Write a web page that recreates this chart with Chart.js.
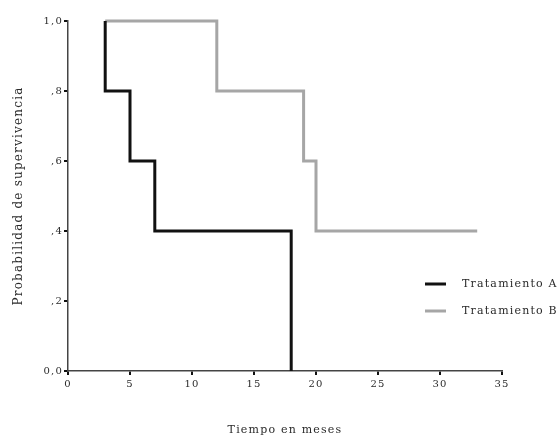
<!DOCTYPE html>
<html>
<head>
<meta charset="utf-8">
<script src="https://cdn.jsdelivr.net/npm/chart.js@4"></script>
<style>
  html, body { margin: 0; padding: 0; background: #ffffff; }
  #wrap { width: 559px; height: 437px; }
</style>
</head>
<body>
<div id="wrap"><canvas id="survival-chart"></canvas></div>
<script>
// ===== DATA =====
const timesA = [3, 3, 5, 7, 18];
const survA = [1.0, 0.8, 0.6, 0.4, 0.0];
const timesB = [3, 12, 19, 20, 33];
const survB = [1.0, 0.8, 0.6, 0.4, 0.4];
const seriesLabels = ['Tratamiento A', 'Tratamiento B'];
const xTicks = [0, 5, 10, 15, 20, 25, 30, 35];
const yTicks = [0, 0.2, 0.4, 0.6, 0.8, 1.0];
const yTickLabels = ['0,0', ',2', ',4', ',6', ',8', '1,0'];

const FONT = 'DejaVu Serif';
const TEXT_COLOR = '#2a2a2a';

// build {x, y} points from the arrays
function to_points(xs, ys) {
    return xs.map((x, i) => ({ x: x, y: ys[i] }));
}

// the scanned original has widely spaced letters
const spacing = {
    id: 'spacing',
    beforeDraw(chart) {
        chart.ctx.letterSpacing = '1.2px';
    }
};

// legend drawn by hand at the right side of the plot
const sideLegend = {
    id: 'sideLegend',
    afterDraw(chart) {
        const ctx = chart.ctx;
        ctx.save();
        ctx.letterSpacing = '1.2px';
        ctx.font = '11px "' + FONT + '"';
        ctx.textBaseline = 'middle';
        chart.data.datasets.forEach((ds, i) => {
            const y = 284 + i * 27;
            ctx.strokeStyle = ds.borderColor;
            ctx.lineWidth = 3;
            ctx.beginPath();
            ctx.moveTo(425, y);
            ctx.lineTo(446, y);
            ctx.stroke();
            ctx.fillStyle = TEXT_COLOR;
            ctx.fillText(ds.label, 462, y);
        });
        ctx.restore();
    }
};

const ctx = document.getElementById('survival-chart').getContext('2d');
new Chart(ctx, {
    type: 'line',
    data: {
        datasets: [{
            label: seriesLabels[0],
            data: to_points(timesA, survA),
            borderColor: '#111111',
            borderWidth: 3,
            stepped: 'before',
            pointRadius: 0,
            clip: 4,
            fill: false
        }, {
            label: seriesLabels[1],
            data: to_points(timesB, survB),
            borderColor: '#a6a6a6',
            borderWidth: 3,
            stepped: 'before',
            pointRadius: 0,
            clip: 4,
            fill: false
        }]
    },
    options: {
        responsive: true,
        maintainAspectRatio: false,
        animation: false,
        layout: { padding: { top: 21, right: 57, left: 12, bottom: 0 } },
        scales: {
            x: {
                type: 'linear',
                min: 0,
                max: 35,
                afterBuildTicks: (axis) => { axis.ticks = xTicks.map(v => ({ value: v })); },
                afterFit: (axis) => { axis.height = 66; },
                border: { display: true, color: '#444444', width: 1.5 },
                grid: { drawOnChartArea: false, tickLength: 4, color: '#111111', lineWidth: 2 },
                ticks: { color: TEXT_COLOR, font: { family: FONT, size: 10 }, padding: 3, maxRotation: 0 },
                title: {
                    display: true,
                    text: 'Tiempo en meses',
                    color: TEXT_COLOR,
                    font: { family: FONT, size: 11 },
                    padding: { top: 24, bottom: 0 }
                }
            },
            y: {
                min: 0,
                max: 1,
                afterBuildTicks: (axis) => { axis.ticks = yTicks.map(v => ({ value: v })); },
                afterFit: (axis) => { axis.width = 56; },
                border: { display: true, color: '#444444', width: 1.5 },
                grid: { drawOnChartArea: false, tickLength: 4, color: '#111111', lineWidth: 2 },
                ticks: {
                    color: TEXT_COLOR,
                    font: { family: FONT, size: 10 },
                    padding: 1,
                    callback: (value) => {
                        const idx = yTicks.findIndex(t => Math.abs(t - value) < 1e-6);
                        return idx >= 0 ? yTickLabels[idx] : '';
                    }
                },
                title: {
                    display: true,
                    text: 'Probabilidad de supervivencia',
                    color: TEXT_COLOR,
                    font: { family: FONT, size: 12 },
                    padding: { top: 0, bottom: 4 }
                }
            }
        },
        plugins: {
            legend: { display: false },
            tooltip: { enabled: false }
        }
    },
    plugins: [spacing, sideLegend]
});
</script>
</body>
</html>
